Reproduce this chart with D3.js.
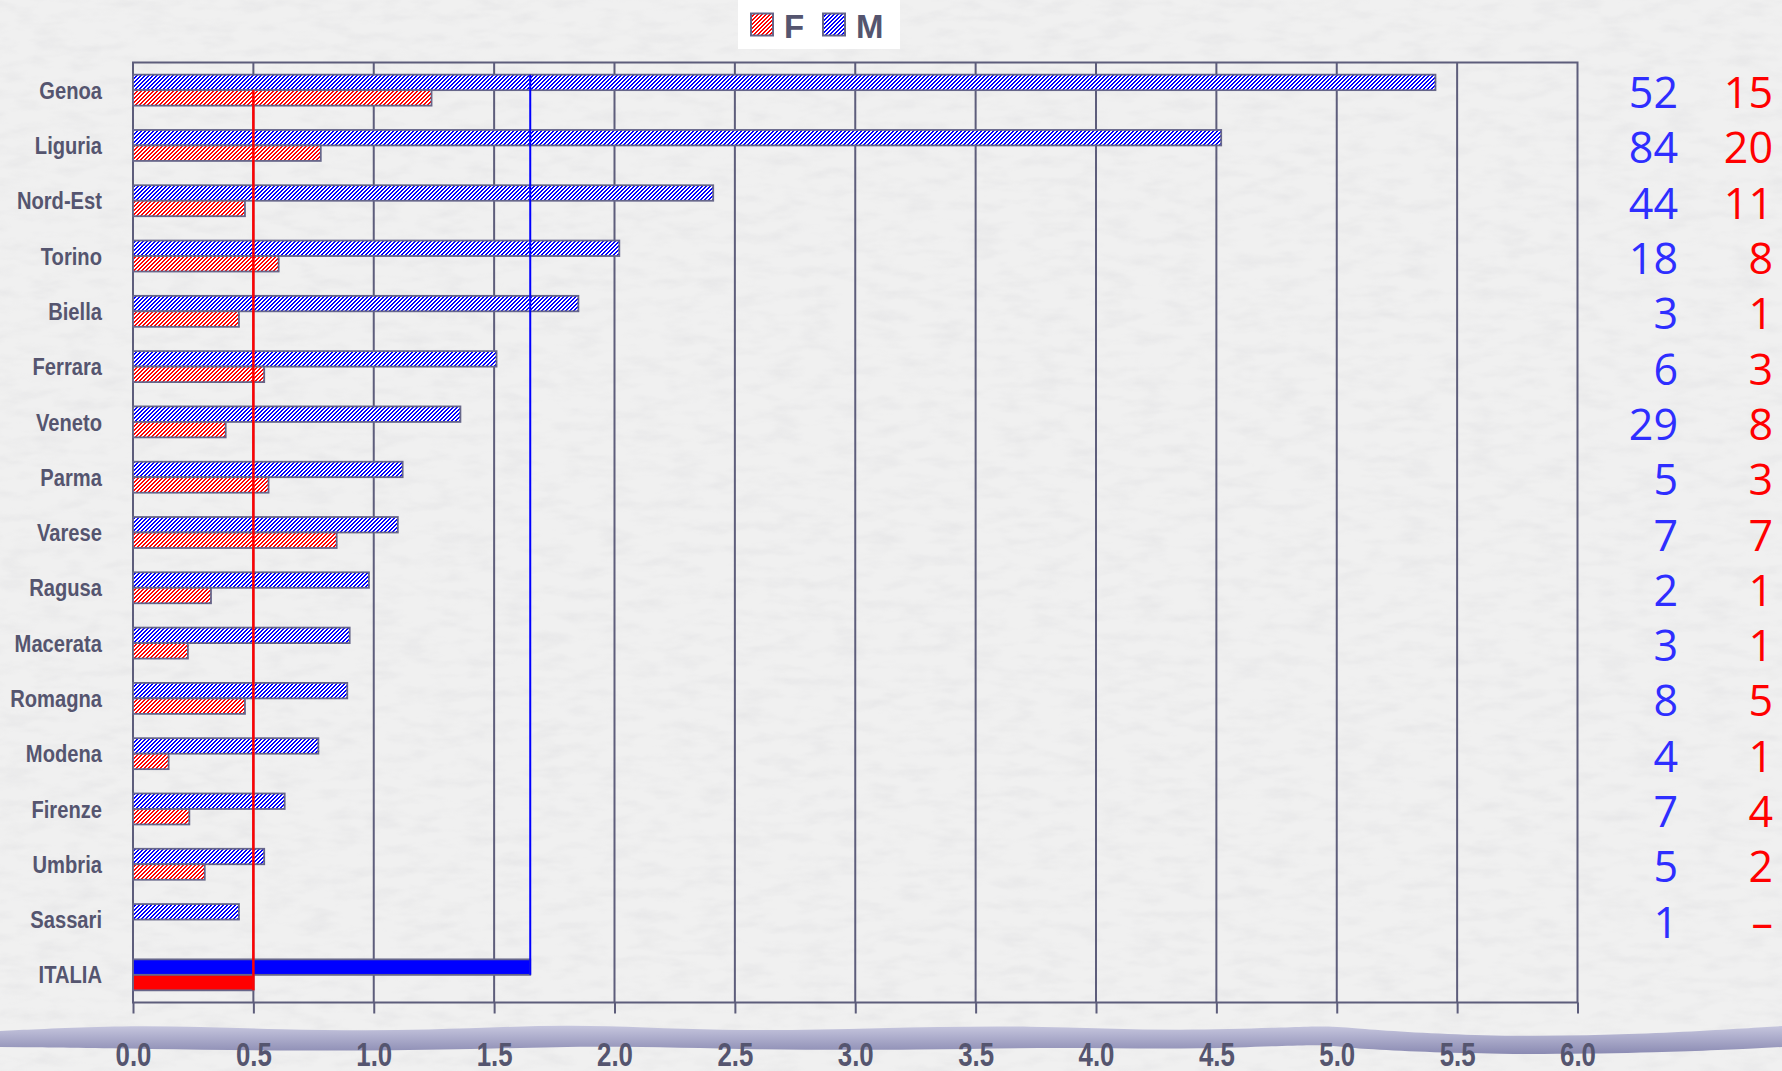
<!DOCTYPE html>
<html><head><meta charset="utf-8">
<script src="https://cdn.jsdelivr.net/npm/d3@7/dist/d3.min.js"></script>
<style>
html,body{margin:0;padding:0;background:#ececec;}
svg{display:block;}
</style></head>
<body>
<svg id="chart" width="1782" height="1071"></svg>
<script>
const categories = ["Genoa","Liguria","Nord-Est","Torino","Biella","Ferrara","Veneto","Parma","Varese","Ragusa","Macerata","Romagna","Modena","Firenze","Umbria","Sassari","ITALIA"];
const valuesM = [5.41, 4.52, 2.41, 2.02, 1.85, 1.51, 1.36, 1.12, 1.10, 0.98, 0.90, 0.89, 0.77, 0.63, 0.545, 0.44, 1.65];
const valuesF = [1.24, 0.78, 0.465, 0.605, 0.44, 0.545, 0.385, 0.563, 0.846, 0.324, 0.228, 0.465, 0.148, 0.234, 0.298, 0, 0.50];
const countsM = ["52","84","44","18","3","6","29","5","7","2","3","8","4","7","5","1"];
const countsF = ["15","20","11","8","1","3","8","3","7","1","1","5","1","4","2","–"];
const tickValues = [0,0.5,1,1.5,2,2.5,3,3.5,4,4.5,5,5.5,6];
const seriesKeys = ["M","F"];
const totalLabel = "ITALIA";

(function(){
const W = 1782, H = 1071;
const pL = 133, pR = 1577.5, pT = 62.5, pB = 1002.5;
const svg = d3.select("#chart");
const ink = "#55556f";
const boldSans = "'Liberation Sans',Arial,sans-serif";

const defs = svg.append("defs");
const f = defs.append("filter").attr("id","paper").attr("x",0).attr("y",0).attr("width","100%").attr("height","100%");
f.append("feTurbulence").attr("type","fractalNoise").attr("baseFrequency","0.03 0.09").attr("numOctaves",3).attr("seed",7).attr("result","n");
f.append("feColorMatrix").attr("type","matrix")
 .attr("values","0 0 0 0 0.6  0 0 0 0 0.6  0 0 0 0 0.63  0 0 0 -1.4 0.8");
svg.append("rect").attr("width",W).attr("height",H).attr("fill","#f0f0f0");
svg.append("rect").attr("width",W).attr("height",H).attr("filter","url(#paper)").attr("opacity",0.3);

function hatch(id, color){
  const p = defs.append("pattern").attr("id",id).attr("patternUnits","userSpaceOnUse").attr("width",4).attr("height",4);
  p.append("rect").attr("width",4).attr("height",4).attr("fill","#ffffff");
  const cells = [[3,0],[0,0],[2,1],[3,1],[1,2],[2,2],[0,3],[1,3]];
  cells.forEach(([cx,cy])=>p.append("rect").attr("x",cx).attr("y",cy).attr("width",1).attr("height",1)
    .attr("fill",color).attr("shape-rendering","crispEdges"));
}
hatch("hM","#0000ff");
hatch("hF","#ff0000");

const grad = defs.append("linearGradient").attr("id","wave").attr("x1",0).attr("y1",0).attr("x2",0).attr("y2",1);
grad.append("stop").attr("offset","0%").attr("stop-color","#c6c6de");
grad.append("stop").attr("offset","100%").attr("stop-color","#8a8ab2");

const ribbonTop = [[0,1031],[140,1024],[280,1030],[430,1031],[570,1023],[720,1032],[880,1028],[1030,1025],[1180,1032],[1330,1025],[1345,1028],[1480,1037],[1640,1035],[1782,1026]];
const ribbonBot = [[0,1047],[150,1049],[300,1051],[460,1050],[600,1045],[760,1050],[920,1050],[1060,1047],[1200,1050],[1330,1043],[1345,1049],[1500,1055],[1660,1053],[1782,1047]];
const ribbonPath = d3.line().curve(d3.curveBasis);
svg.append("path")
  .attr("d", ribbonPath(ribbonTop) + "L" + ribbonPath(ribbonBot.slice().reverse()).slice(1) + "Z")
  .attr("fill","url(#wave)");

const x = d3.scaleLinear().domain([0,6]).range([pL,pR]);
const y = d3.scaleBand().domain(categories).range([pT,pB]).paddingInner(0.44).paddingOuter(0.22);
const sub = d3.scaleBand().domain(seriesKeys).range([0,y.bandwidth()]);

svg.append("g").selectAll("line").data(tickValues.slice(1,-1)).join("line")
  .attr("x1",d=>x(d)).attr("x2",d=>x(d)).attr("y1",pT).attr("y2",pB)
  .attr("stroke","#5d5d7b").attr("stroke-width",2);
svg.append("rect").attr("x",pL).attr("y",pT).attr("width",pR-pL).attr("height",pB-pT)
  .attr("fill","none").attr("stroke","#5d5d7b").attr("stroke-width",2);

const ax = svg.append("g").attr("transform",`translate(0,${pB})`)
  .call(d3.axisBottom(x).tickValues(tickValues).tickFormat(d3.format(".1f")).tickSize(11).tickSizeOuter(0).tickPadding(28));
ax.select(".domain").remove();
ax.selectAll(".tick line").attr("stroke","#5d5d7b").attr("stroke-width",2);
ax.selectAll(".tick text").attr("fill",ink).attr("font-family",boldSans).attr("font-weight","bold")
  .attr("font-size",34).attr("dy","0.71em").attr("transform","scale(0.76,1)");

const rows = categories.map((c,i)=>({c, M:valuesM[i], F:valuesF[i], total: c===totalLabel}));
const g = svg.append("g");
rows.forEach(r=>{
  seriesKeys.forEach(k=>{
    if (r[k] <= 0) return;
    g.append("rect")
      .attr("x", x(0)).attr("y", y(r.c)+sub(k))
      .attr("width", x(r[k])-x(0)).attr("height", sub.bandwidth())
      .attr("fill", r.total ? (k==="M" ? "#0000ff" : "#ff0000") : (k==="M" ? "url(#hM)" : "url(#hF)"))
      .attr("stroke","#66668a").attr("stroke-width",1.8);
  });
});

const natM = valuesM[categories.indexOf(totalLabel)], natF = valuesF[categories.indexOf(totalLabel)];
svg.append("line").attr("x1",x(natM)).attr("x2",x(natM))
  .attr("y1",y(categories[0])+sub("M")).attr("y2",y(totalLabel)+sub("M")+sub.bandwidth())
  .attr("stroke","#0000ff").attr("stroke-width",2);
svg.append("line").attr("x1",x(natF)).attr("x2",x(natF))
  .attr("y1",y(categories[0])+sub("F")).attr("y2",y(totalLabel)+sub("F")+sub.bandwidth())
  .attr("stroke","#ff0000").attr("stroke-width",2.5);

svg.append("g").selectAll("text").data(categories).join("text")
  .attr("transform",d=>`translate(102,${y(d)+y.bandwidth()/2}) scale(0.84,1)`).attr("dy","0.36em")
  .attr("text-anchor","end").attr("font-family",boldSans).attr("font-weight","bold")
  .attr("font-size",24).attr("fill",ink).text(d=>d);

const cnt = svg.append("g").attr("font-family","'Open Sans','Noto Sans',sans-serif").attr("font-size",43).attr("text-anchor","end");
cnt.selectAll("text.m").data(countsM).join("text").attr("class","m")
  .attr("x",1678).attr("y",(d,i)=>y(categories[i])+y.bandwidth()/2+18).attr("fill","#2e2eff").text(d=>d);
cnt.selectAll("text.f").data(countsF).join("text").attr("class","f")
  .attr("x",1773).attr("y",(d,i)=>y(categories[i])+y.bandwidth()/2+18).attr("fill","#ff0000").text(d=>d);

const lg = svg.append("g");
lg.append("rect").attr("x",738).attr("y",0).attr("width",162).attr("height",49).attr("fill","#ffffff");
[["F","url(#hF)",751],["M","url(#hM)",823]].forEach(([lab,fill,lx])=>{
  lg.append("rect").attr("x",lx).attr("y",13.5).attr("width",22).attr("height",22).attr("fill",fill)
    .attr("stroke","#66668a").attr("stroke-width",2);
  lg.append("text").attr("x",lx+33).attr("y",38).attr("font-family",boldSans)
    .attr("font-weight","bold").attr("font-size",33).attr("fill",ink).text(lab);
});
})();
</script>
</body></html>
